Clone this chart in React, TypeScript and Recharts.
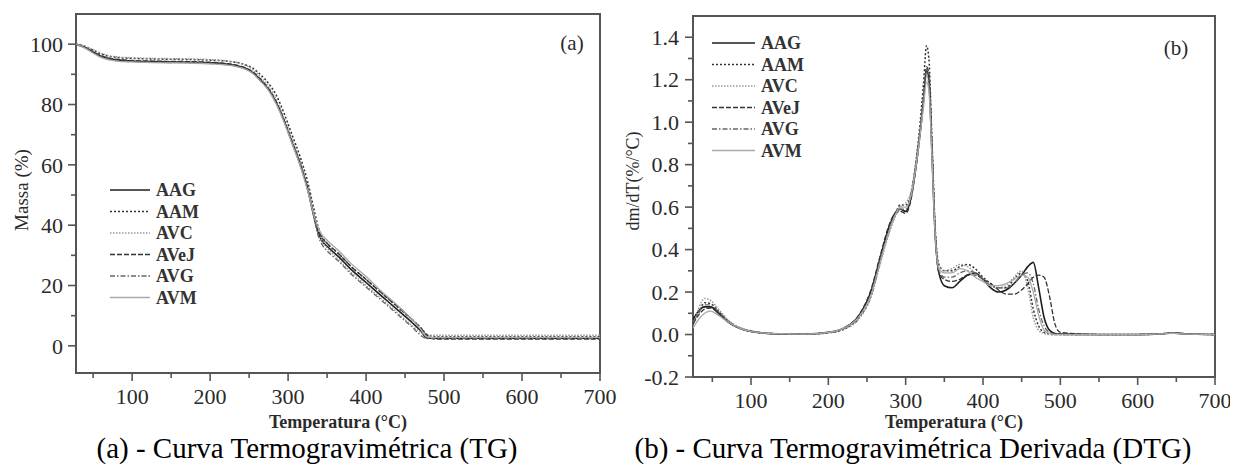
import React from 'react';
import { LineChart, Line, XAxis, YAxis, ReferenceArea, Legend } from 'recharts';

const SERIES = ['AAG', 'AAM', 'AVC', 'AVeJ', 'AVG', 'AVM'];

// ---- TG data (Massa %) ----
const tgTemps = [28, 40, 50, 60, 70, 80, 100, 125, 150, 175, 200, 220, 235, 245, 255, 265, 275, 285, 295, 305, 315, 325, 333, 338, 343, 350, 365, 380, 400, 420, 440, 460, 470, 478, 490, 550, 600, 650, 700];
const tgAAG = [100, 98.8, 97.3, 96.0, 95.2, 94.8, 94.4, 94.2, 94.1, 94.0, 93.8, 93.4, 92.8, 92.0, 90.5, 88.0, 85.0, 80.5, 74.5, 67.5, 60.5, 52.0, 43.0, 38.0, 35.0, 33.0, 29.5, 25.5, 21.0, 16.5, 12.0, 7.5, 5.0, 2.6, 2.5, 2.5, 2.5, 2.5, 2.5];
const tgAAM = [100, 99.2, 98.0, 96.8, 96.0, 95.6, 95.3, 95.1, 95.0, 94.9, 94.7, 94.4, 93.9, 93.2, 92.0, 89.8, 87.0, 83.0, 77.0, 70.0, 63.0, 54.5, 45.5, 40.0, 36.5, 34.0, 30.5, 26.5, 22.0, 17.5, 13.0, 8.5, 6.0, 3.8, 3.0, 3.0, 3.0, 3.0, 3.0];
const tgAVC = [100, 99.3, 98.2, 97.0, 96.2, 95.8, 95.5, 95.3, 95.2, 95.1, 94.9, 94.5, 93.9, 93.0, 91.5, 89.0, 86.0, 81.5, 75.5, 68.5, 61.5, 53.0, 44.0, 38.5, 35.0, 32.5, 28.5, 24.5, 20.0, 15.5, 11.0, 6.5, 4.5, 3.6, 3.5, 3.5, 3.5, 3.5, 3.5];
const tgAVeJ = [100, 98.9, 97.5, 96.2, 95.4, 95.0, 94.6, 94.4, 94.3, 94.2, 94.0, 93.6, 93.0, 92.2, 90.8, 88.3, 85.3, 80.8, 74.8, 67.8, 60.8, 52.3, 43.5, 38.8, 36.0, 34.0, 30.5, 26.5, 22.0, 17.5, 13.0, 8.5, 6.0, 3.5, 2.2, 2.2, 2.2, 2.2, 2.2];
const tgAVG = [100, 98.7, 97.2, 95.8, 95.0, 94.6, 94.2, 94.0, 93.9, 93.8, 93.6, 93.2, 92.6, 91.8, 90.3, 87.8, 84.8, 80.3, 74.3, 67.3, 60.3, 51.8, 42.8, 37.0, 33.8, 31.5, 28.0, 24.0, 19.5, 15.0, 10.5, 6.0, 3.5, 2.4, 2.4, 2.4, 2.4, 2.4, 2.4];
const tgAVM = [100, 98.6, 97.0, 95.6, 94.8, 94.4, 94.1, 93.9, 93.8, 93.7, 93.5, 93.1, 92.5, 91.7, 90.2, 87.6, 84.6, 80.0, 74.0, 67.0, 60.0, 51.5, 43.5, 39.5, 37.0, 35.0, 31.5, 27.5, 23.0, 18.0, 13.5, 8.5, 5.5, 3.0, 2.8, 2.8, 2.8, 2.8, 2.8];

// ---- DTG data (dm/dT %/°C) ----
const dtgTemps = [25, 32, 40, 48, 58, 70, 85, 100, 130, 170, 200, 220, 240, 255, 267, 278, 286, 293, 300, 306, 312, 318, 323, 327, 330, 334, 338, 343, 350, 360, 370, 380, 390, 400, 410, 420, 430, 440, 450, 458, 465, 472, 479, 486, 493, 500, 550, 600, 630, 645, 660, 700];
const dtgAAG = [0.07, 0.11, 0.13, 0.13, 0.10, 0.06, 0.03, 0.015, 0.004, 0.002, 0.01, 0.03, 0.09, 0.2, 0.36, 0.5, 0.57, 0.59, 0.58, 0.63, 0.76, 0.93, 1.10, 1.25, 1.20, 0.85, 0.48, 0.29, 0.23, 0.22, 0.25, 0.28, 0.29, 0.26, 0.22, 0.20, 0.21, 0.24, 0.28, 0.32, 0.34, 0.22, 0.08, 0.02, 0.005, 0.002, 0, 0, 0.003, 0.007, 0.004, 0];
const dtgAAM = [0.05, 0.10, 0.15, 0.145, 0.11, 0.065, 0.03, 0.015, 0.004, 0.002, 0.008, 0.025, 0.08, 0.18, 0.34, 0.48, 0.56, 0.61, 0.61, 0.65, 0.78, 0.97, 1.18, 1.36, 1.30, 0.92, 0.52, 0.33, 0.30, 0.30, 0.32, 0.33, 0.31, 0.27, 0.24, 0.22, 0.22, 0.26, 0.29, 0.25, 0.12, 0.04, 0.01, 0.003, 0, 0, 0, 0, 0.003, 0.007, 0.004, 0];
const dtgAVC = [0.04, 0.12, 0.17, 0.16, 0.12, 0.07, 0.035, 0.018, 0.005, 0.002, 0.008, 0.025, 0.075, 0.175, 0.33, 0.47, 0.55, 0.60, 0.62, 0.66, 0.77, 0.94, 1.10, 1.22, 1.17, 0.86, 0.50, 0.32, 0.30, 0.31, 0.33, 0.32, 0.29, 0.26, 0.23, 0.22, 0.23, 0.27, 0.30, 0.22, 0.08, 0.02, 0.005, 0, 0, 0, 0, 0, 0.003, 0.006, 0.003, 0];
const dtgAVeJ = [0.05, 0.09, 0.12, 0.125, 0.10, 0.06, 0.03, 0.015, 0.004, 0.002, 0.01, 0.03, 0.095, 0.21, 0.37, 0.51, 0.57, 0.58, 0.57, 0.62, 0.75, 0.92, 1.09, 1.26, 1.23, 0.90, 0.50, 0.29, 0.26, 0.25, 0.26, 0.28, 0.28, 0.26, 0.24, 0.21, 0.19, 0.19, 0.21, 0.24, 0.27, 0.28, 0.27, 0.18, 0.05, 0.01, 0, 0, 0.003, 0.008, 0.004, 0];
const dtgAVG = [0.06, 0.10, 0.14, 0.14, 0.11, 0.065, 0.03, 0.015, 0.004, 0.002, 0.01, 0.028, 0.085, 0.19, 0.35, 0.49, 0.56, 0.59, 0.59, 0.64, 0.77, 0.95, 1.12, 1.25, 1.22, 0.88, 0.49, 0.30, 0.27, 0.27, 0.29, 0.30, 0.29, 0.26, 0.23, 0.22, 0.22, 0.24, 0.28, 0.29, 0.24, 0.12, 0.04, 0.01, 0.002, 0, 0, 0, 0.003, 0.007, 0.003, 0];
const dtgAVM = [0.03, 0.07, 0.10, 0.11, 0.09, 0.06, 0.03, 0.015, 0.004, 0.002, 0.01, 0.03, 0.085, 0.185, 0.34, 0.48, 0.56, 0.60, 0.60, 0.64, 0.76, 0.92, 1.07, 1.19, 1.15, 0.84, 0.48, 0.31, 0.29, 0.29, 0.31, 0.30, 0.27, 0.25, 0.23, 0.23, 0.24, 0.26, 0.28, 0.27, 0.20, 0.09, 0.02, 0.005, 0, 0, 0, 0, 0.003, 0.006, 0.003, 0];

// ---- ticks ----
const xMajorTicks = [100, 200, 300, 400, 500, 600, 700];
const xMinorTicks = [50, 150, 250, 350, 450, 550, 650];
const tgMajorY = [0, 20, 40, 60, 80, 100];
const tgMinorY = [10, 30, 50, 70, 90];
const dtgMajorY = [-0.2, 0, 0.2, 0.4, 0.6, 0.8, 1.0, 1.2, 1.4];
const dtgMinorY = [-0.1, 0.1, 0.3, 0.5, 0.7, 0.9, 1.1, 1.3];

const tgDomainX = [28, 700];
const tgDomainY = [-9, 110];
const dtgDomainX = [25, 700];
const dtgDomainY = [-0.2, 1.5];

const tgCols = [tgAAG, tgAAM, tgAVC, tgAVeJ, tgAVG, tgAVM];
const dtgCols = [dtgAAG, dtgAAM, dtgAVC, dtgAVeJ, dtgAVG, dtgAVM];

const tgData = tgTemps.map((t, i) => {
  const row: any = { t };
  SERIES.forEach((s, k) => (row[s] = tgCols[k][i]));
  return row;
});
const dtgData = dtgTemps.map((t, i) => {
  const row: any = { t };
  SERIES.forEach((s, k) => (row[s] = dtgCols[k][i]));
  return row;
});

const FONT = "'Liberation Serif', 'Times New Roman', serif";
const AXIS = '#555';

const STYLES: Record<string, { stroke: string; dash?: string; width: number }> = {
  AAG: { stroke: '#1e1e1e', width: 1.6 },
  AAM: { stroke: '#333', dash: '2 2', width: 1.5 },
  AVC: { stroke: '#9a9a9a', dash: '1.5 1.5', width: 1.5 },
  AVeJ: { stroke: '#333', dash: '5 2', width: 1.3 },
  AVG: { stroke: '#666', dash: '5 2 1.5 2', width: 1.3 },
  AVM: { stroke: '#a8a8a8', width: 1.3 },
};

const near = (arr: number[], v: number) => arr.some((a) => Math.abs(a - v) < 1e-6);

const makeXTick = (majors: number[]) => (props: any) => {
  const { x, y, payload } = props;
  const v = payload.value;
  const major = near(majors, v);
  return (
    <g>
      <line x1={x} y1={y} x2={x} y2={y + (major ? 8 : 5)} stroke={AXIS} strokeWidth={1.6} />
      {major && (
        <text x={x} y={y + 31} textAnchor="middle" fontSize={22} fontFamily={FONT} fill="#2a2a2a">
          {v}
        </text>
      )}
    </g>
  );
};

const makeYTick = (majors: number[], fmt: (v: number) => string, gap: number) => (props: any) => {
  const { x, y, payload } = props;
  const v = payload.value;
  const major = near(majors, v);
  return (
    <g>
      <line x1={x} y1={y} x2={x - (major ? 8 : 5)} y2={y} stroke={AXIS} strokeWidth={1.6} />
      {major && (
        <text x={x - gap} y={y} dy="0.35em" textAnchor="end" fontSize={22} fontFamily={FONT} fill="#2a2a2a">
          {fmt(v)}
        </text>
      )}
    </g>
  );
};

const makeLegend = (lineLen: number) => () => (
  <svg width={140} height={140} style={{ overflow: 'visible' }}>
    {SERIES.map((s, i) => {
      const st = STYLES[s];
      const y = 11 + i * 21.5;
      return (
        <g key={s}>
          <line x1={5} x2={5 + lineLen} y1={y} y2={y} stroke={st.stroke} strokeDasharray={st.dash} strokeWidth={st.width} />
          <text x={11 + lineLen} y={y + 6} fontSize={18} fontWeight="bold" fontFamily={FONT} fill="#333">
            {s}
          </text>
        </g>
      );
    })}
  </svg>
);

const renderLines = () =>
  SERIES.map((s) => (
    <Line
      key={s}
      dataKey={s}
      type="monotone"
      dot={false}
      activeDot={false}
      isAnimationActive={false}
      stroke={STYLES[s].stroke}
      strokeDasharray={STYLES[s].dash}
      strokeWidth={STYLES[s].width}
    />
  ));

export default function App() {
  const allX = [...xMajorTicks, ...xMinorTicks].sort((a, b) => a - b);
  const tgY = [...tgMajorY, ...tgMinorY].sort((a, b) => a - b);
  const dtgY = [...dtgMajorY, ...dtgMinorY].sort((a, b) => a - b);

  return (
    <div style={{ position: 'absolute', left: 0, top: 0, width: 1234, height: 468, background: '#fff', overflow: 'hidden' }}>
      <div style={{ position: 'absolute', left: 0, top: 0 }}>
        <LineChart width={640} height={440} data={tgData} margin={{ top: 14, right: 40, left: 0, bottom: 0 }}>
          <XAxis
            dataKey="t"
            type="number"
            domain={tgDomainX}
            allowDataOverflow
            ticks={allX}
            interval={0}
            tickLine={false}
            axisLine={false}
            tickSize={0}
            tickMargin={0}
            height={67}
            tick={makeXTick(xMajorTicks)}
          />
          <YAxis
            type="number"
            domain={tgDomainY}
            allowDataOverflow
            ticks={tgY}
            interval={0}
            tickLine={false}
            axisLine={false}
            tickSize={0}
            tickMargin={0}
            width={76}
            tick={makeYTick(tgMajorY, (v) => String(v), 13)}
          />
          <ReferenceArea x1={tgDomainX[0]} x2={tgDomainX[1]} y1={tgDomainY[0]} y2={tgDomainY[1]} fill="none" stroke={AXIS} strokeWidth={2} ifOverflow="visible" />
          {renderLines()}
          <Legend layout="vertical" align="center" verticalAlign="middle" wrapperStyle={{ left: 105, top: 179, width: 140 }} content={makeLegend(40)} />
        </LineChart>
      </div>
      <div style={{ position: 'absolute', left: 610, top: 0 }}>
        <LineChart width={620} height={440} data={dtgData} margin={{ top: 16, right: 15, left: 0, bottom: 0 }}>
          <XAxis
            dataKey="t"
            type="number"
            domain={dtgDomainX}
            allowDataOverflow
            ticks={allX}
            interval={0}
            tickLine={false}
            axisLine={false}
            tickSize={0}
            tickMargin={0}
            height={63}
            tick={makeXTick(xMajorTicks)}
          />
          <YAxis
            type="number"
            domain={dtgDomainY}
            allowDataOverflow
            ticks={dtgY}
            interval={0}
            tickLine={false}
            axisLine={false}
            tickSize={0}
            tickMargin={0}
            width={83}
            tick={makeYTick(dtgMajorY, (v) => v.toFixed(1), 14)}
          />
          <ReferenceArea x1={dtgDomainX[0]} x2={dtgDomainX[1]} y1={dtgDomainY[0]} y2={dtgDomainY[1]} fill="none" stroke={AXIS} strokeWidth={2} ifOverflow="visible" />
          {renderLines()}
          <Legend layout="vertical" align="center" verticalAlign="middle" wrapperStyle={{ left: 97, top: 32, width: 140 }} content={makeLegend(43)} />
        </LineChart>
      </div>
      <svg width={1234} height={468} style={{ position: 'absolute', left: 0, top: 0, pointerEvents: 'none' }}>
        <g fontFamily={FONT} fill="#2a2a2a">
          <text x={338} y={428} textAnchor="middle" fontSize={18} fontWeight="bold">Temperatura (°C)</text>
          <text x={954} y={428} textAnchor="middle" fontSize={18} fontWeight="bold">Temperatura (°C)</text>
          <text transform="translate(28,190) rotate(-90)" textAnchor="middle" fontSize={19}>Massa (%)</text>
          <text transform="translate(639,181) rotate(-90)" textAnchor="middle" fontSize={18}>dm/dT(%/°C)</text>
          <text x={572} y={50} textAnchor="middle" fontSize={21}>(a)</text>
          <text x={1176} y={55} textAnchor="middle" fontSize={21}>(b)</text>
        </g>
        <g fontFamily={FONT} fill="#000">
          <text x={307} y={458} textAnchor="middle" fontSize={29}>(a) - Curva Termogravimétrica (TG)</text>
          <text x={913} y={458} textAnchor="middle" fontSize={29}>(b) - Curva Termogravimétrica Derivada (DTG)</text>
        </g>
      </svg>
    </div>
  );
}
